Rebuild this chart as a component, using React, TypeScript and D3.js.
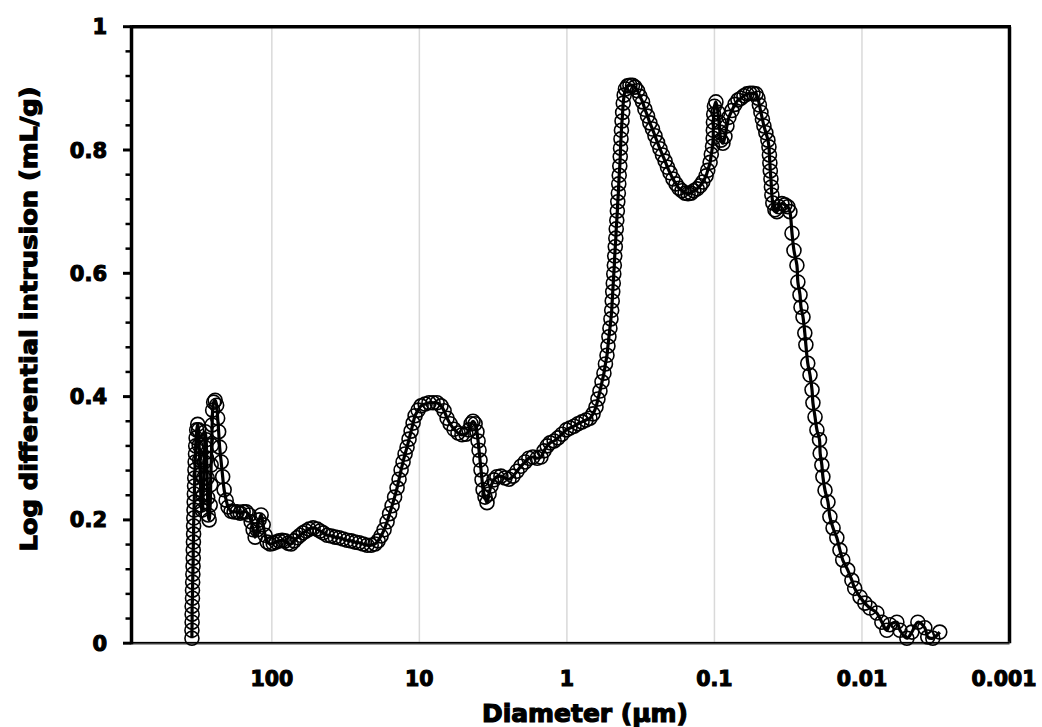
import React from "react";
import * as d3 from "d3";

// Pore diameter (µm), in plotting order
const diameter: number[] = [
  // low-pressure spike
  348, 348, 347, 347, 347, 345, 345, 344, 343, 342, 341, 341, 340, 339, 339, 338, 337, 336, 335, 334, 333, 332, 331, 329, 328, 326, 323, 318,
  313.3, 310.9, 308.5, 306.1, 303.7, 301.3, 296.7, 292.1, 289.8, 287.5, 285.3, 283.1, 278.7, 276.5, 274.4, 272.3, 270.2, 266.0, 261.8, 259.8, 257.8, 255.8, 253.8, 251.8, 247.9, 242.2, 236.6, 232.9, 229.3, 225.8, 220.5, 215.4, 210.5, 204.0, 197.8, 188.7, 180.1, 171.8, 164.0, 156.5, 149.3, 142.5,
  138.1, 133.9, 129.8, 125.8, 121.9, 118.2, 114.5, 111.0, 107.6, 102.7, 98.0, 93.5, 89.2, 85.2, 81.3, 77.6, 74.0, 70.6, 67.4, 64.3, 61.4, 58.6, 55.9, 52.5, 49.3, 47.1, 44.9, 42.2, 39.6, 37.2, 35.0, 32.9, 30.9, 29.0, 27.3, 25.6, 24.1, 22.6, 21.2, 19.96,
  19.05, 18.18, 17.35, 16.55, 15.92, 15.31, 14.72, 14.16, 13.73, 13.30, 12.90, 12.50, 12.12, 11.75, 11.38, 11.03, 10.69, 10.20, 9.74, 9.15, 8.60, 8.08, 7.59, 7.13, 6.80, 6.49, 6.19, 5.82, 5.47, 5.14, 4.83, 4.61, 4.46, 4.33, 4.19, 4.07, 4.00, 3.94, 3.88, 3.82, 3.76, 3.70, 3.59, 3.48,
  3.37, 3.27, 3.12, 2.98, 2.80, 2.63, 2.47, 2.32, 2.18, 2.05, 1.92, 1.81, 1.70, 1.59, 1.50, 1.43, 1.36, 1.30, 1.22, 1.15, 1.08, 1.01, 0.953, 0.895, 0.841, 0.790, 0.742, 0.698,
  0.665, 0.635, 0.616, 0.597, 0.578, 0.561, 0.548, 0.535, 0.527, 0.519, 0.511, 0.503, 0.497, 0.493, 0.489, 0.485, 0.481, 0.477, 0.474, 0.470, 0.466, 0.463, 0.459, 0.455, 0.452, 0.448, 0.445, 0.442, 0.438, 0.435, 0.433, 0.430, 0.427, 0.423, 0.419, 0.415, 0.409,
  0.401, 0.388, 0.374, 0.359, 0.346, 0.332, 0.320, 0.307, 0.296, 0.284, 0.274, 0.263, 0.253, 0.243, 0.234, 0.225, 0.216, 0.208, 0.200, 0.191, 0.182, 0.174, 0.166, 0.158, 0.151, 0.144, 0.138, 0.131, 0.125, 0.120, 0.114, 0.111, 0.107, 0.105, 0.103, 0.102, 0.1018, 0.1016, 0.1011,
  0.100, 0.0977, 0.0947, 0.0932, 0.0918, 0.0904, 0.0876, 0.0849, 0.0823, 0.0798, 0.0761, 0.0726, 0.0693, 0.0661, 0.0631, 0.0602, 0.0575, 0.0548, 0.0523, 0.0507, 0.0496, 0.0484, 0.0473, 0.0462, 0.0448, 0.0434, 0.0427, 0.0424, 0.0421, 0.0418, 0.0414, 0.0411, 0.0408, 0.0402, 0.0389, 0.0377, 0.0366, 0.0349, 0.0333, 0.0318, 0.0308,
  0.0298, 0.0289, 0.0276, 0.0272, 0.0263, 0.0259, 0.0251, 0.0244, 0.0240, 0.0233, 0.0225, 0.0218, 0.0215, 0.0208, 0.0202, 0.0194, 0.0192, 0.0187, 0.0184, 0.0178, 0.0170, 0.0165, 0.0157, 0.0148, 0.0141, 0.0135, 0.0125, 0.0117, 0.0112, 0.0103, 0.00956, 0.00884, 0.00793, 0.00733, 0.00678, 0.00647, 0.00580, 0.00553, 0.00496, 0.00459, 0.00418, 0.00375, 0.00358, 0.00331, 0.00297,
];

// Log differential intrusion (mL/g)
const intrusion: number[] = [
  0.008, 0.021, 0.034, 0.047, 0.060, 0.073, 0.086, 0.099, 0.112, 0.125, 0.138, 0.151, 0.164, 0.177, 0.190, 0.203, 0.216, 0.229, 0.242, 0.255, 0.268, 0.281, 0.294, 0.307, 0.320, 0.333, 0.346, 0.355,
  0.346, 0.321, 0.297, 0.273, 0.249, 0.224, 0.216, 0.240, 0.268, 0.294, 0.318, 0.343, 0.330, 0.300, 0.268, 0.236, 0.208, 0.200, 0.224, 0.257, 0.289, 0.321, 0.354, 0.378, 0.391, 0.394, 0.386, 0.365, 0.343, 0.318, 0.294, 0.270, 0.249, 0.232, 0.221, 0.214, 0.213, 0.213, 0.211, 0.213, 0.213, 0.208,
  0.197, 0.184, 0.172, 0.184, 0.200, 0.208, 0.192, 0.175, 0.164, 0.161, 0.162, 0.164, 0.166, 0.167, 0.166, 0.162, 0.161, 0.166, 0.171, 0.175, 0.179, 0.182, 0.185, 0.187, 0.185, 0.182, 0.179, 0.175, 0.174, 0.172, 0.171, 0.169, 0.167, 0.166, 0.164, 0.163, 0.161, 0.159, 0.159, 0.161,
  0.166, 0.174, 0.184, 0.197, 0.210, 0.223, 0.237, 0.252, 0.266, 0.281, 0.294, 0.307, 0.318, 0.331, 0.344, 0.357, 0.369, 0.378, 0.385, 0.388, 0.390, 0.390, 0.390, 0.385, 0.377, 0.365, 0.356, 0.347, 0.341, 0.338, 0.339, 0.346, 0.356, 0.360, 0.356, 0.343, 0.328, 0.313, 0.297, 0.281, 0.265, 0.249, 0.237, 0.228,
  0.242, 0.255, 0.265, 0.270, 0.271, 0.268, 0.266, 0.271, 0.279, 0.287, 0.294, 0.300, 0.302, 0.300, 0.302, 0.312, 0.320, 0.325, 0.328, 0.333, 0.339, 0.346, 0.349, 0.352, 0.356, 0.359, 0.362, 0.365,
  0.372, 0.383, 0.396, 0.409, 0.424, 0.438, 0.453, 0.467, 0.482, 0.497, 0.511, 0.526, 0.540, 0.555, 0.570, 0.584, 0.599, 0.613, 0.628, 0.643, 0.657, 0.672, 0.686, 0.701, 0.716, 0.730, 0.745, 0.759, 0.774, 0.789, 0.803, 0.818, 0.832, 0.847, 0.861, 0.876, 0.889,
  0.899, 0.904, 0.905, 0.905, 0.902, 0.896, 0.887, 0.878, 0.866, 0.855, 0.844, 0.834, 0.823, 0.812, 0.802, 0.792, 0.782, 0.772, 0.763, 0.753, 0.745, 0.738, 0.734, 0.730, 0.729, 0.730, 0.734, 0.737, 0.742, 0.748, 0.758, 0.767, 0.780, 0.793, 0.806, 0.819, 0.832, 0.845, 0.858,
  0.871, 0.878, 0.861, 0.845, 0.829, 0.816, 0.811, 0.822, 0.839, 0.853, 0.864, 0.874, 0.881, 0.884, 0.888, 0.891, 0.892, 0.892, 0.891, 0.884, 0.873, 0.861, 0.850, 0.839, 0.828, 0.816, 0.805, 0.792, 0.779, 0.766, 0.753, 0.740, 0.727, 0.714, 0.703, 0.700, 0.708, 0.713, 0.711, 0.708, 0.700,
  0.665, 0.637, 0.613, 0.586, 0.565, 0.545, 0.529, 0.503, 0.484, 0.454, 0.435, 0.411, 0.390, 0.367, 0.346, 0.330, 0.308, 0.289, 0.270, 0.248, 0.229, 0.205, 0.187, 0.171, 0.151, 0.135, 0.119, 0.102, 0.089, 0.075, 0.065, 0.057, 0.049, 0.034, 0.021, 0.030, 0.034, 0.021, 0.008, 0.018, 0.034, 0.025, 0.010, 0.008, 0.018,
];

const xTickValues: number[] = [100, 10, 1, 0.1, 0.01, 0.001];
const xTickLabels: string[] = ["100", "10", "1", "0.1", "0.01", "0.001"];
const xGridValues: number[] = [100, 10, 1, 0.1, 0.01];
const yTickValues: number[] = [0, 0.2, 0.4, 0.6, 0.8, 1];
const yTickLabels: string[] = ["0", "0.2", "0.4", "0.6", "0.8", "1"];

const FONT = "'DejaVu Sans', 'Liberation Sans', Arial, sans-serif";

export default function App() {
  const W = 1042;
  const H = 727;
  const plotLeft = 131.5;
  const plotRight = 1009.5;
  const plotTop = 26.7;
  const plotBottom = 643.2;

  const x = d3.scaleLog().domain([1000, 0.001]).range([124.3, plotRight]);
  const y = d3.scaleLinear().domain([0, 1]).range([plotBottom, plotTop]);

  const pts: [number, number][] = diameter.map((d, i) => [x(d), y(intrusion[i])]);
  const line = d3.line<[number, number]>().curve(d3.curveCatmullRom.alpha(0.5));
  const path = line(pts) || "";

  const minorTicks = d3.range(0, 1.0001, 0.04).filter((v) => Math.abs(v * 5 - Math.round(v * 5)) > 1e-6);

  return (
    <svg
      width={W}
      height={H}
      viewBox={`0 0 ${W} ${H}`}
      style={{ position: "absolute", left: 0, top: 0, background: "#fff" }}
    >
      <rect x={0} y={0} width={W} height={H} fill="#fff" />
      {/* vertical gridlines */}
      {xGridValues.map((v) => (
        <line key={"g" + v} x1={x(v)} x2={x(v)} y1={plotTop} y2={plotBottom} stroke="#d9d9d9" strokeWidth={1.5} />
      ))}
      {/* frame */}
      <line x1={plotLeft} x2={plotRight + 1.5} y1={plotTop} y2={plotTop} stroke="#000" strokeWidth={3.5} />
      <line x1={plotRight} x2={plotRight} y1={plotTop} y2={plotBottom} stroke="#000" strokeWidth={3.5} />
      <line x1={plotLeft} x2={plotRight} y1={plotBottom} y2={plotBottom} stroke="#7f7f7f" strokeWidth={3} />
      <line x1={plotLeft} x2={plotRight} y1={plotBottom - 0.5} y2={plotBottom - 0.5} stroke="#000" strokeWidth={1.6} />
      <line x1={plotLeft} x2={plotLeft} y1={plotTop - 1.5} y2={plotBottom + 1} stroke="#000" strokeWidth={3.5} />
      {/* y ticks */}
      {yTickValues.map((v) => (
        <line key={"yt" + v} x1={123} x2={plotLeft} y1={y(v)} y2={y(v)} stroke="#000" strokeWidth={3} />
      ))}
      {minorTicks.map((v) => (
        <line key={"ym" + v} x1={125.5} x2={plotLeft} y1={y(v)} y2={y(v)} stroke="#000" strokeWidth={2.5} />
      ))}
      {yTickValues.map((v, i) => (
        <text
          key={"yl" + v}
          x={107}
          y={y(v)}
          dy="0.36em"
          textAnchor="end"
          fontFamily={FONT}
          fontWeight="bold"
          fontSize={21}
          fill="#000"
          stroke="#000"
          strokeWidth={1.1}
        >
          {yTickLabels[i]}
        </text>
      ))}
      {xTickValues.map((v, i) => (
        <text
          key={"xl" + v}
          x={Math.min(x(v), 1004)}
          y={686}
          textAnchor="middle"
          fontFamily={FONT}
          fontWeight="bold"
          fontSize={20.5}
          fill="#000"
          stroke="#000"
          strokeWidth={1.1}
        >
          {xTickLabels[i]}
        </text>
      ))}
      {/* axis titles */}
      <text
        x={585}
        y={722}
        textAnchor="middle"
        fontFamily={FONT}
        fontWeight="bold"
        fontSize={24}
        textLength={206}
        lengthAdjust="spacingAndGlyphs"
        fill="#000"
        stroke="#000"
        strokeWidth={1.2}
      >
        Diameter (µm)
      </text>
      <text
        transform="translate(37,319) rotate(-90)"
        textAnchor="middle"
        fontFamily={FONT}
        fontWeight="bold"
        fontSize={23}
        textLength={465}
        lengthAdjust="spacingAndGlyphs"
        fill="#000"
        stroke="#000"
        strokeWidth={1.2}
      >
        Log differential intrusion (mL/g)
      </text>
      {/* data line */}
      <path d={path} fill="none" stroke="#000" strokeWidth={3.2} strokeLinejoin="round" />
      {/* markers */}
      {pts.map(([px, py], i) => (
        <circle key={"c" + i} cx={px} cy={py} r={7} fill="none" stroke="#000" strokeWidth={1.6} />
      ))}
    </svg>
  );
}
